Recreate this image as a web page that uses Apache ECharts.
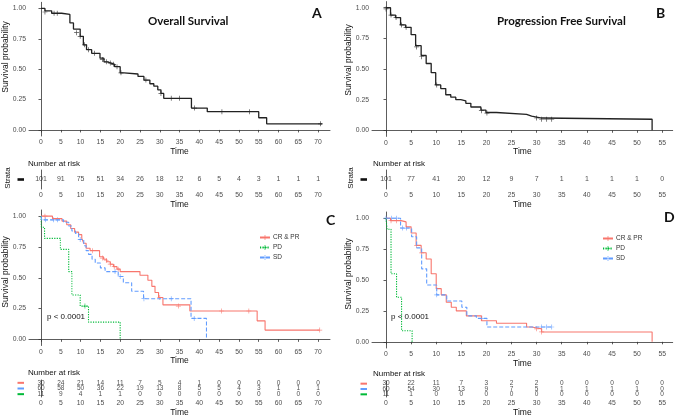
<!DOCTYPE html>
<html>
<head>
<meta charset="utf-8">
<script src="https://cdn.jsdelivr.net/npm/echarts@6/dist/echarts.min.js"></script>
<style>html,body{margin:0;padding:0;background:#fff}#main{width:676px;height:418px}</style>
</head>
<body>
<div id="main"></div>
<script>
// 刻度
var osTicks = [0,5,10,15,20,25,30,35,40,45,50,55,60,65,70];
var pfsTicks = [0,5,10,15,20,25,30,35,40,45,50,55];
var survTicks = [0,0.25,0.5,0.75,1];

// A: overall survival  [time, survival]
var osCurve = [[0,1.00],[1,0.98],[2.7,0.96],[5.2,0.95],[7.3,0.88],[8.2,0.83],[9.9,0.77],[10.7,0.70],[11.5,0.66],[12.8,0.63],[14.9,0.59],[15.9,0.56],[16.8,0.55],[17.7,0.54],[18.6,0.52],[20,0.47],[21,0.46],[24.5,0.44],[26,0.41],[27.5,0.38],[28.5,0.36],[29.5,0.33],[30.3,0.30],[31,0.26],[38,0.18],[42,0.15],[55,0.10],[57,0.05],[71,0.05]];
var osCensor = [[1,0.97],[3.3,0.96],[4.1,0.96],[9,0.80],[9.9,0.77],[11,0.70],[12,0.66],[13.5,0.63],[15.5,0.58],[16.5,0.56],[17.5,0.55],[18.3,0.54],[19.2,0.52],[20.2,0.47],[26.5,0.41],[30.3,0.30],[32.9,0.26],[35,0.26],[38.8,0.18],[45.7,0.15],[52.7,0.15],[70.6,0.05]];
var osRisk = [101,91,75,51,34,26,18,12,6,5,4,3,1,1,1];

// B: progression free survival
var pfsCurve = [[0,1.00],[0.9,0.94],[1.9,0.92],[2.9,0.86],[3.9,0.84],[5,0.78],[5.9,0.69],[7,0.61],[8,0.545],[9,0.47],[9.9,0.37],[10.9,0.34],[11.9,0.29],[12.9,0.27],[13.9,0.25],[14.9,0.24],[15.9,0.22],[16.9,0.19],[18.9,0.165],[19.9,0.145],[22,0.13],[28,0.115],[29,0.10],[31,0.09],[53,0.09],[53,0]];
var pfsCensor = [[0,0.99],[1,0.94],[2,0.92],[3.1,0.86],[4,0.84],[6.1,0.68],[7.1,0.60],[10.1,0.37],[19,0.16],[20.1,0.14],[30,0.10],[31,0.09],[32,0.09],[33,0.09]];
var pfsRisk = [101,77,41,20,12,9,7,1,1,1,1,0];

// C/D: by response group
var groups = ['CR & PR','PD','SD'];
var riskRows = ['CR & PR','SD','PD'];

var osCrpr = [[0,1.0],[2.9,0.98],[5.3,0.96],[6.5,0.93],[7.5,0.90],[8.5,0.87],[9.5,0.85],[10.3,0.82],[10.8,0.78],[11.4,0.74],[12.4,0.72],[14.8,0.67],[15.8,0.65],[16.6,0.63],[17.5,0.61],[18.3,0.59],[19.2,0.57],[20,0.55],[25,0.52],[27,0.48],[28,0.43],[28.8,0.38],[29.7,0.34],[30.8,0.28],[37.6,0.23],[54.6,0.15],[56.6,0.075],[70.4,0.075]];
var osCrprCensor = [[1,1.0],[13,0.72],[15.5,0.66],[16.5,0.64],[17.5,0.61],[18.5,0.59],[19.5,0.57],[30,0.34],[34.7,0.27],[45.6,0.23],[52.5,0.23],[70.4,0.075]];
var osPd = [[0,1.0],[0.1,0.91],[0.9,0.82],[4.9,0.73],[7,0.55],[7.8,0.36],[9.9,0.27],[12,0.14],[20,0.14],[20,0]];
var osPdCensor = [[11.1,0.27]];
var osSd = [[0,1.0],[0.2,0.97],[5.7,0.95],[7,0.92],[7.8,0.88],[8.7,0.86],[9.5,0.81],[10.8,0.76],[11.4,0.72],[12,0.69],[12.9,0.65],[13.7,0.62],[15,0.58],[16.2,0.55],[19.5,0.51],[20.8,0.46],[22.9,0.39],[25.9,0.33],[37.9,0.17],[41.8,0.17],[41.8,0]];
var osSdCensor = [[1.1,0.97],[3.2,0.97],[4.2,0.97],[9.9,0.81],[18.7,0.55],[20,0.51],[26,0.33],[32.9,0.33],[38.7,0.17]];
var osRiskCrpr = [30,24,21,14,11,7,5,4,1,0,0,0,0,0,0];
var osRiskSd = [60,58,50,36,22,19,13,8,5,5,4,3,1,1,1];
var osRiskPd = [11,9,4,1,1,0,0,0,0,0,0,0,0,0,0];

var pfsCrpr = [[0,1.0],[0.9,0.98],[3,0.97],[4,0.93],[5,0.88],[6,0.78],[7,0.72],[8,0.67],[9,0.55],[10,0.43],[11,0.38],[12,0.32],[13,0.28],[14,0.25],[16,0.21],[19,0.17],[22,0.15],[28,0.12],[29,0.105],[31,0.08],[53,0.08],[53,0]];
var pfsCrprCensor = [[1,0.98],[2.1,0.98],[6.1,0.78],[7.1,0.72],[30,0.105],[31,0.08]];
var pfsPd = [[0,1.0],[0.2,0.91],[1,0.55],[2.1,0.36],[3.1,0.09],[5.2,0.09],[5.2,0]];
var pfsPdCensor = [];
var pfsSd = [[0,1.0],[2.9,0.92],[5.1,0.85],[6.1,0.76],[7.1,0.59],[8.1,0.46],[10.1,0.38],[12.1,0.33],[15.1,0.28],[16.1,0.21],[18,0.19],[20.1,0.12],[33,0.12]];
var pfsSdCensor = [[0,1.0],[1.1,1.0],[2.1,1.0],[3.3,0.92],[4.1,0.92],[10.1,0.38],[19.1,0.19],[31,0.12],[32,0.12],[33,0.12]];
var pfsRiskCrpr = [30,22,11,7,3,2,2,0,0,0,0,0];
var pfsRiskSd = [60,54,30,13,9,7,5,1,1,1,1,0];
var pfsRiskPd = [11,1,0,0,0,0,0,0,0,0,0,0];

var colors = {'CR & PR':'#F8766D','PD':'#00BA38','SD':'#619CFF'};
var dashes = {'CR & PR':'solid','PD':[1.2,1.3],'SD':[4,2]};
var plus = 'path://M0,4.3H10V5.7H0Z M4.3,0H5.7V10H4.3Z';

var myChart = echarts.init(document.getElementById('main'));

var axisColor = '#333';
function xAx(g, min, max, ticks, gap) {
  return {type:'value', gridIndex:g, min:min, max:max, name:'Time', nameLocation:'middle', nameGap:gap,
    nameTextStyle:{fontSize:8.5, color:'#111', fontFamily:'Liberation Sans'},
    splitLine:{show:false}, axisLine:{lineStyle:{color:axisColor, width:0.8}},
    axisTick:{length:2.5, customValues:ticks, lineStyle:{color:axisColor, width:0.8}},
    axisLabel:{customValues:ticks, fontSize:6.8, color:'#4d4d4d', margin:3, fontFamily:'Liberation Sans'}};
}
function yKm(g) {
  return {type:'value', gridIndex:g, min:-0.05, max:1.05, splitLine:{show:false},
    axisLine:{show:true, lineStyle:{color:axisColor, width:0.8}},
    axisTick:{show:true, length:2.5, customValues:survTicks, lineStyle:{color:axisColor, width:0.8}},
    axisLabel:{customValues:survTicks, fontSize:6.8, color:'#4d4d4d', margin:3, fontFamily:'Liberation Sans',
      formatter:function(v){return v.toFixed(2);}}};
}
function yRisk(g, rows, barColors, barH) {
  var rich = {};
  barColors.forEach(function(c, i){ rich['c'+i] = {backgroundColor:c, width:6.5, height:barH}; });
  return {type:'category', gridIndex:g, data:rows, inverse:true,
    axisLine:{show:true, lineStyle:{color:axisColor, width:0.8}}, axisTick:{show:false}, splitLine:{show:false},
    axisLabel:{margin:5, interval:0, formatter:function(v, i){return '{c'+i+'| }';}, rich:rich}};
}

var xAxis = [], yAxis = [], series = [];
// grids: A km, A risk, B km, B risk, C km, C risk, D km, D risk
var grid = [
  {left:29, top:2.3, width:301, height:133.7},
  {left:29, top:170, width:301, height:19},
  {left:372, top:1.6, width:300.7, height:134.8},
  {left:372, top:170, width:300.7, height:19},
  {left:29, top:210, width:301, height:135.5},
  {left:29, top:380, width:301, height:17},
  {left:372, top:212, width:300.7, height:136},
  {left:372, top:381, width:300.7, height:19}
];
var osMin = -3.03, osMax = 73, pfsMin = -2.79, pfsMax = 57.1;
xAxis.push(xAx(0, osMin, osMax, osTicks, 10));  yAxis.push(yKm(0));
xAxis.push(xAx(1, osMin, osMax, osTicks, 11));  yAxis.push(yRisk(1, ['all'], ['#111'], 2.6));
xAxis.push(xAx(2, pfsMin, pfsMax, pfsTicks, 10)); yAxis.push(yKm(2));
xAxis.push(xAx(3, pfsMin, pfsMax, pfsTicks, 11)); yAxis.push(yRisk(3, ['all'], ['#111'], 2.6));
xAxis.push(xAx(4, osMin, osMax, osTicks, 9.5)); yAxis.push(yKm(4));
xAxis.push(xAx(5, osMin, osMax, osTicks, 11)); yAxis.push(yRisk(5, riskRows, riskRows.map(function(r){return colors[r];}), 2));
xAxis.push(xAx(6, pfsMin, pfsMax, pfsTicks, 9.5)); yAxis.push(yKm(6));
xAxis.push(xAx(7, pfsMin, pfsMax, pfsTicks, 11)); yAxis.push(yRisk(7, riskRows, riskRows.map(function(r){return colors[r];}), 2));

function curve(g, name, data, color, type, width) {
  series.push({type:'line', name:name, xAxisIndex:g, yAxisIndex:g, data:data, step:'end',
    symbol:plus, symbolSize:5, showSymbol:false, silent:true,
    itemStyle:{color:color}, lineStyle:{color:color, width:width, type:type}});
}
function censor(g, data, color) {
  series.push({type:'scatter', xAxisIndex:g, yAxisIndex:g, data:data, symbol:plus, symbolSize:5,
    silent:true, itemStyle:{color:color}});
}
function risk(g, ticks, row, counts, size) {
  series.push({type:'scatter', xAxisIndex:g, yAxisIndex:g, symbolSize:0, silent:true,
    data:ticks.map(function(t, i){return [t, row, counts[i]];}),
    label:{show:true, position:'inside', formatter:function(p){return p.value[2];},
      fontSize:size, color:'#222', fontFamily:'Liberation Sans'}});
}

curve(0, 'Overall', osCurve, '#222', 'solid', 1.3); censor(0, osCensor, '#222');
risk(1, osTicks, 'all', osRisk, 7);
curve(2, 'PFS', pfsCurve, '#222', 'solid', 1.3); censor(2, pfsCensor, '#222');
risk(3, pfsTicks, 'all', pfsRisk, 7);

curve(4, 'CR & PR', osCrpr, colors['CR & PR'], dashes['CR & PR'], 1.1);
curve(4, 'PD', osPd, colors['PD'], dashes['PD'], 1.1);
curve(4, 'SD', osSd, colors['SD'], dashes['SD'], 1.1);
censor(4, osCrprCensor, colors['CR & PR']); censor(4, osPdCensor, colors['PD']); censor(4, osSdCensor, colors['SD']);
risk(5, osTicks, 'CR & PR', osRiskCrpr, 6.5);
risk(5, osTicks, 'SD', osRiskSd, 6.5);
risk(5, osTicks, 'PD', osRiskPd, 6.5);

curve(6, 'CR & PR', pfsCrpr, colors['CR & PR'], dashes['CR & PR'], 1.1);
curve(6, 'PD', pfsPd, colors['PD'], dashes['PD'], 1.1);
curve(6, 'SD', pfsSd, colors['SD'], dashes['SD'], 1.1);
censor(6, pfsCrprCensor, colors['CR & PR']); censor(6, pfsPdCensor, colors['PD']); censor(6, pfsSdCensor, colors['SD']);
risk(7, pfsTicks, 'CR & PR', pfsRiskCrpr, 6.5);
risk(7, pfsTicks, 'SD', pfsRiskSd, 6.5);
risk(7, pfsTicks, 'PD', pfsRiskPd, 6.5);

var bold = {fontFamily:'Lato', fontWeight:'bold', color:'#111'};
function t(text, left, top, style) { return {text:text, left:left, top:top, padding:0, textStyle:style}; }
var plain8 = {fontFamily:'Liberation Sans', fontWeight:'normal', fontSize:8, color:'#111'};

var option = {
  animation:false,
  backgroundColor:'#fff',
  title:[
    t('Overall Survival', 148, 15, Object.assign({fontSize:11.5}, bold)),
    t('A', 312, 6, Object.assign({fontSize:14}, bold)),
    t('Progression Free Survival', 497, 15, Object.assign({fontSize:11.5}, bold)),
    t('B', 656, 6, Object.assign({fontSize:14}, bold)),
    t('C', 326, 213, Object.assign({fontSize:14}, bold)),
    t('D', 664, 210, Object.assign({fontSize:14}, bold)),
    t('Number at risk', 28, 160, plain8),
    t('Number at risk', 373, 160, plain8),
    t('Number at risk', 28, 369, plain8),
    t('Number at risk', 373, 370, plain8),
    t('p < 0.0001', 47, 313, plain8),
    t('p < 0.0001', 391, 313, plain8)
  ],
  legend:[
    {data:groups, orient:'vertical', left:254, top:229, itemWidth:10, itemHeight:6, itemGap:3,
      textStyle:{fontSize:6.5, color:'#333', fontFamily:'Liberation Sans', padding:[0,0,0,-2]}, selectedMode:false},
    {data:groups, orient:'vertical', left:597, top:230, itemWidth:10, itemHeight:6, itemGap:3,
      textStyle:{fontSize:6.5, color:'#333', fontFamily:'Liberation Sans', padding:[0,0,0,-2]}, selectedMode:false}
  ],
  graphic:[
    {type:'text', x:6, y:57, rotation:Math.PI/2, style:{text:'Survival probability', fontSize:8.5, fontFamily:'Liberation Sans', fill:'#111', align:'center', verticalAlign:'middle'}},
    {type:'text', x:349, y:60, rotation:Math.PI/2, style:{text:'Survival probability', fontSize:8.5, fontFamily:'Liberation Sans', fill:'#111', align:'center', verticalAlign:'middle'}},
    {type:'text', x:6, y:272, rotation:Math.PI/2, style:{text:'Survival probability', fontSize:8.5, fontFamily:'Liberation Sans', fill:'#111', align:'center', verticalAlign:'middle'}},
    {type:'text', x:349, y:274, rotation:Math.PI/2, style:{text:'Survival probability', fontSize:8.5, fontFamily:'Liberation Sans', fill:'#111', align:'center', verticalAlign:'middle'}},
    {type:'text', x:8, y:178, rotation:Math.PI/2, style:{text:'Strata', fontSize:8, fontFamily:'Liberation Sans', fill:'#111', align:'center', verticalAlign:'middle'}},
    {type:'text', x:351, y:178, rotation:Math.PI/2, style:{text:'Strata', fontSize:8, fontFamily:'Liberation Sans', fill:'#111', align:'center', verticalAlign:'middle'}}
  ],
  grid:grid,
  xAxis:xAxis,
  yAxis:yAxis,
  series:series
};
myChart.setOption(option);
</script>
</body>
</html>
